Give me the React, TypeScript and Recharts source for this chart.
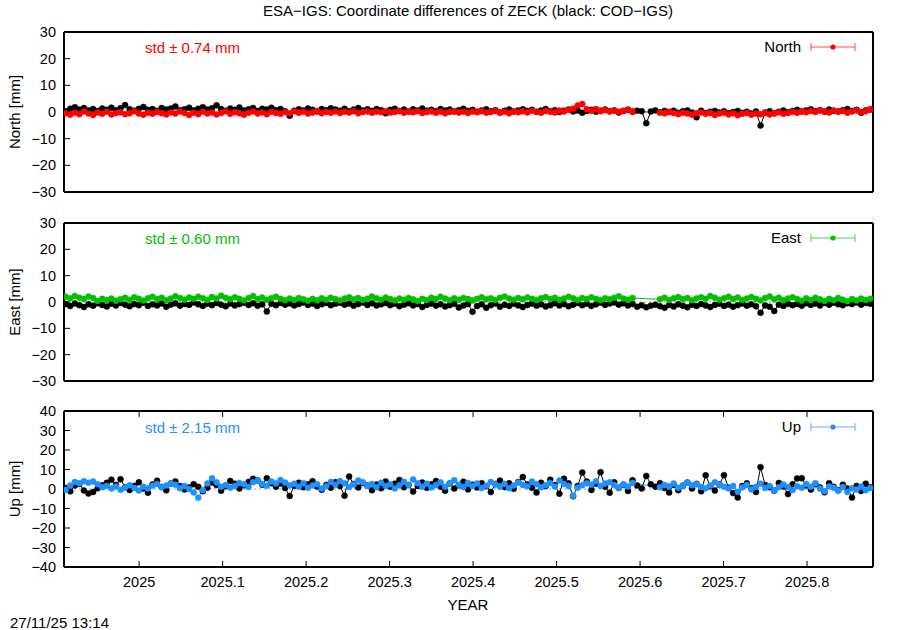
import { LineChart, Line, XAxis, YAxis, ReferenceLine } from 'recharts'

const FONT = '"Liberation Sans", Arial, Helvetica, sans-serif'

// two-day sampling, first epoch ~2024.912
const START = 2024.912
const STEP = 2 / 365.25

const xDomain = [2024.91, 2025.879]
const xTicks = [2025, 2025.1, 2025.2, 2025.3, 2025.4, 2025.5, 2025.6, 2025.7, 2025.8]
const neTicks = [-30, -20, -10, 0, 10, 20, 30]
const upTicks = [-40, -30, -20, -10, 0, 10, 20, 30, 40]

// North [mm]: black = COD-IGS, red = ESA-IGS
const northRef = [
  0.3, 1.2, 1.8, 0.9, 1.5, 0.6, 1.1, 0.4, 1.3, 0.8,
  1.6, 0.7, 1.4, 2.6, 1.0, 0.5, 1.2, 1.9, 0.8, 1.1,
  0.4, 1.5, 0.9, 1.3, 2.1, 0.7, 1.0, 1.6, 0.6, 1.2,
  1.8, 0.9, 1.4, 2.5, 1.1, 0.5, 1.3, 0.8, 1.7, 0.6,
  1.0, 1.5, 0.4, 1.2, 0.9, 1.6, 0.7, 1.1, 0.3, -1.4,
  0.5, 1.0, 0.6, 1.3, 0.8, 0.2, 1.1, 0.7, 1.4, 0.9,
  0.5, 1.2, 0.3, 0.9, 1.5, 0.6, 1.0, 0.4, 1.1, 0.7,
  -0.5, 0.8, 1.2, 0.4, 0.9, 0.2, 1.0, 0.6, 1.3, 0.5,
  0.8, 0.3, 1.1, 0.6, 0.9, 0.2, 0.7, 1.2, 0.4, 0.8,
  0.1, 0.6, 1.0, 0.3, 0.7, -0.2, 0.5, 0.9, 0.2, 0.6,
  1.0, 0.4, 0.8, 0.1, 0.6, 1.1, 0.3, 0.7, 0.0, 0.5,
  0.9, 0.2, 0.6, -0.3, 0.4, 0.8, 0.1, 0.5, 0.9, 0.3,
  0.6, -0.2, 0.4, 0.8, 0.1, 0.5, 0.3, -4.2, 0.2, 0.6,
  -0.1, 0.4, 0.0, 0.5, -0.3, 0.3, 0.6, -0.2, -2.0, 0.5,
  -0.4, 0.1, 0.4, -0.2, 0.3, -0.5, 0.0, 0.4, -0.3, 0.1,
  -0.6, 0.2, -5.1, -0.2, 0.3, -0.5, 0.1, 0.6, -0.1, 0.4,
  0.8, 0.2, 0.6, 1.0, 0.3, 0.7, 0.1, 0.9, 0.5, 0.2,
  0.7, 1.1, 0.4, 0.8, -0.3, 0.6, 0.9,
]
const northSol = [
  -0.5, -1.0, -0.3, -0.8, 0.2, -0.6, -1.1, -0.2, -0.7, 0.1,
  -0.9, -0.4, -0.1, -0.8, -0.5, 0.3, -0.6, -1.0, -0.3, -0.7,
  0.0, -0.5, -0.9, -0.2, -0.6, 0.2, -0.4, -1.1, -0.3, -0.8,
  0.1, -0.6, -0.2, -0.9, -0.4, 0.3, -0.7, -0.1, -0.5, -1.0,
  -0.3, 0.2, -0.6, -0.2, -0.8, 0.1, -0.4, -0.7, 0.0, -0.5,
  0.3, -0.3, 0.1, -0.6, -0.2, 0.4, -0.5, 0.0, -0.3, 0.2,
  -0.4, 0.1, -0.2, 0.3, -0.5, 0.0, 0.2, -0.3, 0.1, -0.1,
  0.3, -0.2, 0.0, 0.4, -0.3, 0.1, -0.1, 0.3, -0.4, 0.0,
  0.2, -0.3, 0.1, -0.5, 0.0, 0.3, -0.2, 0.1, -0.4, 0.2,
  -0.1, 0.3, -0.3, 0.0, 0.4, -0.2, 0.1, -0.5, 0.2, -0.1,
  0.3, -0.2, 0.5, 0.0, -0.3, 0.4, 0.1, -0.2, 0.6, 0.2,
  0.8, 1.2, 2.4, 3.0, 1.0, 0.5, 1.1, 0.3, 0.7, 0.2,
  0.6, 0.1, 0.4, 0.9, 0.2, null, null, null, null, null,
  -0.2, -0.5, 0.1, -0.4, -0.8, -0.3, -0.6, -1.0, -0.5, -0.2,
  -0.7, -0.4, -1.1, -0.6, -0.3, -0.9, -0.5, -1.2, -0.7, -0.4,
  -1.0, -0.6, -0.8, -0.3, -0.9, -0.5, -0.1, -0.7, -0.4, 0.1,
  -0.3, 0.3, -0.1, 0.4, 0.0, 0.6, 0.2, -0.2, 0.5, 0.1,
  0.4, -0.3, 0.2, 0.6, 0.0, 0.3, 1.0,
]

// East [mm]
const eastRef = [
  -0.8, -1.5, -0.6, -1.2, -1.9, -0.9, -1.4, -0.5, -1.1, -1.7,
  -0.7, -1.3, -0.4, -1.0, -1.6, -0.8, -1.2, -0.3, -1.5, -0.9,
  -1.3, -0.6, -1.8, -1.0, -0.5, -1.4, -0.8, -1.1, -0.2, -0.9,
  -1.5, -0.7, -1.2, -0.4, -1.0, -1.6, -0.6, -1.3, -0.8, -0.3,
  -1.1, -0.5, -1.4, -0.9, -3.6, -0.7, -1.2, -0.4, -1.0, -0.6,
  -1.3, -0.8, -0.2, -1.1, -0.6, -1.5, -0.9, -0.4, -1.2, -0.7,
  -0.3, -1.0, -0.6, -1.4, -0.8, -0.2, -1.1, -0.5, -1.3, -0.9,
  -0.4, -1.2, -0.7, -1.6, -1.0, -0.5, -1.3, -0.8, -1.9, -1.1,
  -0.6, -1.4, -0.9, -1.7, -1.2, -0.7, -2.1, -1.3, -0.8, -3.7,
  -1.5, -0.9, -2.2, -1.2, -0.6, -1.8, -1.0, -1.5, -0.7, -1.3,
  -1.9, -1.1, -0.6, -1.4, -0.9, -1.7, -1.2, -0.5, -1.3, -0.8,
  -1.6, -1.0, -0.4, -1.2, -0.7, -1.5, -0.9, -0.3, -1.1, -0.6,
  -0.2, -1.0, -0.5, -1.3, -0.8, -1.8, -1.2, -2.0, -1.4, -1.0,
  -1.6, -2.2, -1.1, -1.7, -0.9, -1.4, -2.0, -1.0, -1.5, -0.8,
  -1.3, -1.9, -1.1, -0.7, -1.5, -1.0, -1.8, -1.2, -0.6, -1.4,
  -0.9, -1.6, -4.1, -1.3, -1.8, -3.4, -1.0, -1.5, -0.7, -1.2,
  -0.8, -1.4, -0.5, -1.1, -0.6, -1.3, -0.4, -1.0, -0.3, -0.9,
  -1.2, -0.5, -0.8, -0.2, -1.0, -0.4, -0.7,
]
const eastSol = [
  2.0, 1.4, 2.3, 1.6, 1.1, 2.1, 1.5, 0.4, 1.2, 0.8,
  1.3, 0.5, 1.0, 1.6, 0.9, 1.8, 1.2, 0.6, 1.4, 2.0,
  1.1, 1.6, 0.7, 1.3, 2.2, 1.5, 0.9, 1.7, 1.2, 2.0,
  1.4, 0.8, 1.9, 1.3, 2.4, 1.6, 1.0, 1.8, 1.2, 0.6,
  1.5, 2.3, 1.1, 1.7, 0.9, 1.4, 2.0, 1.2, 0.7, 1.3,
  0.8, 1.5, 1.0, 0.5, 1.2, 0.7, 1.4, 0.9, 1.6, 1.1,
  0.6, 1.3, 1.8, 1.0, 1.5, 0.8, 1.2, 2.1, 1.4, 0.9,
  1.7, 1.1, 0.6, 1.3, 0.9, 1.5, 1.0, 0.4, 1.2, 0.8,
  1.6, 1.1, 2.0, 1.3, 0.7, 1.4, 0.9, 1.5, 1.1, 0.6,
  1.2, 1.8, 1.0, 1.4, 0.8, 1.6, 2.1, 1.3, 0.9, 1.5,
  1.0, 1.7, 1.2, 0.8, 1.4, 1.9, 1.1, 1.6, 0.9, 1.3,
  2.0, 1.4, 0.8, 1.5, 1.1, 1.8, 1.2, 0.7, 1.4, 1.0,
  1.6, 2.2, 1.3, 0.9, 1.5, null, null, null, null, null,
  1.0, 1.6, 0.8, 1.4, 1.9, 1.1, 1.5, 0.7, 1.3, 1.8,
  1.2, 2.3, 1.6, 0.9, 1.4, 2.0, 1.1, 1.7, 0.8, 1.3,
  1.9, 1.2, 0.6, 1.5, 2.1, 1.0, 1.6, 0.7, 1.3, 1.8,
  1.1, 0.5, 1.4, 0.8, 1.6, 1.0, 0.4, 1.2, 0.7, 1.5,
  0.9, 0.3, 1.1, 0.6, 1.3, 0.8, 1.2,
]

// Up [mm]
const upRef = [
  0.5, -1.2, 1.8, 2.6, -0.8, -2.3, -1.5, 0.4, 1.9, 3.2,
  4.8, 2.1, 5.0, 0.9, -0.5, 1.6, 3.4, 0.2, -1.9, 2.3,
  4.2, 1.0, -0.7, 2.8, 3.9, 1.5, -0.3, 0.8, 2.5, 1.1,
  -1.1, 0.6, 3.3, 2.0, -0.9, 1.4, 4.1, 2.7, 0.3, 1.9,
  3.6, 5.2, 4.4, 2.2, 5.5, 3.0, 1.2, 2.8, 0.5, -3.6,
  1.7, 3.2, 0.9, 2.4, 4.0, 1.3, -0.4, 2.1, 0.7, 3.5,
  1.5, -3.4, 6.4, 2.6, 0.8, 3.1, 1.8, -0.6, 2.3, 0.4,
  3.8, 1.1, 2.7, 4.6, 0.9, 2.0, -1.3, 1.6, 3.3, 0.6,
  2.4, 4.1, 1.2, -0.9, 2.8, 0.3, 1.9, 3.7, -0.2, 2.2,
  0.8, 3.0, 1.4, -1.6, 2.5, 4.3, 1.0, 2.9, 0.1, 3.6,
  6.1, 2.3, 0.7, -1.8, 3.2, 1.5, 4.8, 2.0, -2.4, 5.3,
  2.9, -3.7, 1.6, 8.4, 3.8, -0.5, 2.7, 8.6, 1.1, -1.9,
  3.4, 0.6, 2.2, -1.0, 4.5, 1.8, 0.3, 6.7, 2.4, 1.2,
  3.0, 0.5, -1.8, 2.1, -0.6, 1.7, 3.3, 0.2, 2.6, -1.2,
  7.0, 1.4, -0.8, 2.3, 7.1, 0.7, -2.1, -4.4, 1.5, 2.9,
  0.4, -1.5, 11.2, 2.0, 0.9, -0.9, 3.1, 1.3, -2.6, 2.4,
  5.4, 5.5, 1.8, -0.3, 2.5, 0.8, -1.7, 3.0, 1.1, -0.6,
  2.2, 0.3, -4.4, 1.6, -1.0, 2.7, 0.9,
]
const upSol = [
  -0.5, 1.8, 3.6, 2.9, 4.0, 3.2, 3.8, 2.5, 0.9, 1.6,
  0.2, 1.3, -0.4, 0.8, 1.9, 0.5, -0.8, 1.1, 0.3, 1.7,
  2.6, 0.9, 1.8, 3.0, 2.2, 0.4, 1.5, 0.0, -1.8, -4.5,
  -0.6, 2.8, 5.5, 3.4, 1.2, 2.0, 0.7, 1.6, 3.1, 2.4,
  1.0, 3.5, 4.2, 2.6, 1.7, 3.9, 2.8, 4.6, 3.3, 1.9,
  2.7, 1.1, 3.0, 0.6, 1.8, 2.5, 0.2, 1.4, 3.6, 2.2,
  4.1, 2.9, 1.0, 2.3, 4.4, 3.5, 1.7, 2.6, 0.9, 3.2,
  1.5, 2.4, 0.3, 1.9, 3.7, 2.1, 4.9, 3.0, 1.2, 2.7,
  0.8, 2.0, 3.4, 1.1, 2.9, 4.5, 2.2, 1.0, 3.1, 1.6,
  2.8, 0.5, 1.7, 3.6, 2.3, 1.2, 2.6, 0.4, 1.8, 3.3,
  2.1, 1.4, 3.8, 2.5, 0.9, 2.0, 3.1, 1.3, 4.4, 2.6,
  1.5, -3.5, 0.7, 1.9, 3.0, 2.2, 4.0, 1.6, 2.8, 3.5,
  2.0, 0.8, 2.4, 1.3, 3.1, null, null, null, null, null,
  0.9, 2.1, 1.4, 2.8, 0.6, 1.7, 3.2, 1.9, 2.5, 1.0,
  0.4, 1.8, 3.4, 2.2, 1.1, 0.3, 1.6, -1.4, 0.8, 2.0,
  -0.2, 1.2, 2.7, 0.5, 1.5, -0.8, 0.9, 2.3, 1.0, -0.5,
  1.4, 0.6, 2.6, 1.1, 3.0, 0.2, -1.2, 1.3, 0.7, -0.9,
  1.0, -1.6, 0.4, -0.3, 1.2, -0.7, 0.5,
]

const RED = '#ff0000'
const GREEN = '#00c000'
const BLUE = '#1e90ff'

const buildRows = (ref: number[], sol: (number | null)[]) =>
  ref.map((r, i) => ({ t: START + i * STEP, ref: r, sol: sol[i] }))

const fmtMinus = (v: number) => String(v).replace('-', '\u2212')

const tickFont = { fill: '#000', fontSize: 14.5, fontFamily: FONT }

interface PanelProps {
  top: number
  height: number
  mTop: number
  mBottom: number
  rows: { t: number; ref: number; sol: number | null }[]
  color: string
  yDomain: number[]
  yTicks: number[]
  yLabel: string
  showX?: boolean
}

function Panel({ top, height, mTop, mBottom, rows, color, yDomain, yTicks, yLabel, showX }: PanelProps) {
  const [yMin, yMax] = yDomain
  // inward tick length on the top border, ~6px in data units
  const topTick = (yMax - yMin) * 0.038
  return (
    <div style={{ position: 'absolute', left: 0, top }}>
      <LineChart
        width={900}
        height={height}
        data={rows}
        margin={{ top: mTop, right: 0, bottom: mBottom, left: 0 }}
      >
        <XAxis
          xAxisId="b"
          dataKey="t"
          type="number"
          domain={xDomain}
          allowDataOverflow
          hide={!showX}
          ticks={xTicks}
          interval={0}
          height={30}
          tickSize={-6}
          tickMargin={16}
          tick={tickFont}
          tickLine={{ stroke: '#000' }}
          axisLine={{ stroke: '#000', strokeWidth: 2 }}
          tickFormatter={(v: number) => String(v)}
        />
        <YAxis
          yAxisId="l"
          type="number"
          domain={yDomain}
          allowDataOverflow
          ticks={yTicks}
          interval={0}
          width={64}
          tickSize={-6}
          tickMargin={14}
          tick={tickFont}
          tickLine={{ stroke: '#000' }}
          axisLine={{ stroke: '#000', strokeWidth: 2 }}
          tickFormatter={fmtMinus}
          label={{
            value: yLabel,
            angle: -90,
            position: 'insideLeft',
            offset: 15,
            style: { textAnchor: 'middle', fill: '#000', fontSize: 15, fontFamily: FONT },
          }}
        />
        <YAxis
          yAxisId="r"
          orientation="right"
          type="number"
          domain={yDomain}
          allowDataOverflow
          ticks={yTicks}
          interval={0}
          width={27}
          tickSize={-6}
          tick={false}
          tickLine={{ stroke: '#000' }}
          axisLine={{ stroke: '#000', strokeWidth: 2 }}
        />
        <ReferenceLine
          xAxisId="b"
          yAxisId="l"
          y={0}
          stroke="#a0a0a0"
          strokeDasharray="2 3"
          ifOverflow="visible"
        />
        {/* frame: top and bottom borders */}
        <ReferenceLine xAxisId="b" yAxisId="l" y={yMax} stroke="#000" strokeWidth={2} ifOverflow="visible" />
        <ReferenceLine xAxisId="b" yAxisId="l" y={yMin} stroke="#000" strokeWidth={2} ifOverflow="visible" />
        {showX &&
          xTicks.map((t) => (
            <ReferenceLine
              key={t}
              xAxisId="b"
              yAxisId="l"
              segment={[
                { x: t, y: yMax },
                { x: t, y: yMax - topTick },
              ]}
              stroke="#000"
              ifOverflow="visible"
            />
          ))}
        <Line
          xAxisId="b"
          yAxisId="l"
          dataKey="ref"
          stroke="#000"
          strokeWidth={1}
          dot={{ r: 3, fill: '#000', stroke: '#000', strokeWidth: 0.5 }}
          activeDot={false}
          isAnimationActive={false}
        />
        <Line
          xAxisId="b"
          yAxisId="l"
          dataKey="sol"
          stroke={color}
          strokeWidth={1}
          connectNulls
          dot={{ r: 3, fill: color, stroke: color, strokeWidth: 0.5 }}
          activeDot={false}
          isAnimationActive={false}
        />
      </LineChart>
    </div>
  )
}

const txt = (style: React.CSSProperties): React.CSSProperties => ({
  position: 'absolute',
  fontFamily: FONT,
  fontSize: 15,
  lineHeight: '15px',
  whiteSpace: 'nowrap',
  color: '#000',
  ...style,
})

function Key({ y, label, color }: { y: number; label: string; color: string }) {
  return (
    <>
      <div style={txt({ right: 99, top: y - 8, textAlign: 'right' })}>{label}</div>
      <svg
        width={52}
        height={12}
        style={{ position: 'absolute', left: 808, top: y - 6 }}
      >
        <line x1={3} x2={47} y1={6} y2={6} stroke={color} strokeOpacity={0.7} strokeWidth={1} />
        <line x1={3} x2={3} y1={2} y2={10} stroke={color} strokeOpacity={0.7} strokeWidth={1} />
        <line x1={47} x2={47} y1={2} y2={10} stroke={color} strokeOpacity={0.7} strokeWidth={1} />
        <circle cx={25} cy={6} r={2.6} fill={color} />
      </svg>
    </>
  )
}

export default function App() {
  return (
    <div style={{ position: 'absolute', left: 0, top: 0, width: 900, height: 630, background: '#fff' }}>
      <Panel
        top={0}
        height={200}
        mTop={32}
        mBottom={8}
        rows={buildRows(northRef, northSol)}
        color={RED}
        yDomain={[-30, 30]}
        yTicks={neTicks}
        yLabel="North [mm]"
      />
      <Panel
        top={200}
        height={190}
        mTop={23}
        mBottom={9}
        rows={buildRows(eastRef, eastSol)}
        color={GREEN}
        yDomain={[-30, 30]}
        yTicks={neTicks}
        yLabel="East [mm]"
      />
      <Panel
        top={390}
        height={240}
        mTop={21}
        mBottom={33}
        rows={buildRows(upRef, upSol)}
        color={BLUE}
        yDomain={[-40, 40]}
        yTicks={upTicks}
        yLabel="Up [mm]"
        showX
      />

      <div style={txt({ left: 468, top: 3, transform: 'translateX(-50%)' })}>
        ESA{'\u2212'}IGS: Coordinate differences of ZECK (black: COD{'\u2212'}IGS)
      </div>

      <div style={txt({ left: 145, top: 40, color: RED })}>std ± 0.74 mm</div>
      <div style={txt({ left: 145, top: 231, color: GREEN })}>std ± 0.60 mm</div>
      <div style={txt({ left: 145, top: 420, color: BLUE })}>std ± 2.15 mm</div>

      <Key y={47} label="North" color={RED} />
      <Key y={238} label="East" color={GREEN} />
      <Key y={427} label="Up" color={BLUE} />

      <div style={txt({ left: 468, top: 597, transform: 'translateX(-50%)' })}>YEAR</div>
      <div style={txt({ left: 10, top: 615 })}>27/11/25 13:14</div>
    </div>
  )
}
